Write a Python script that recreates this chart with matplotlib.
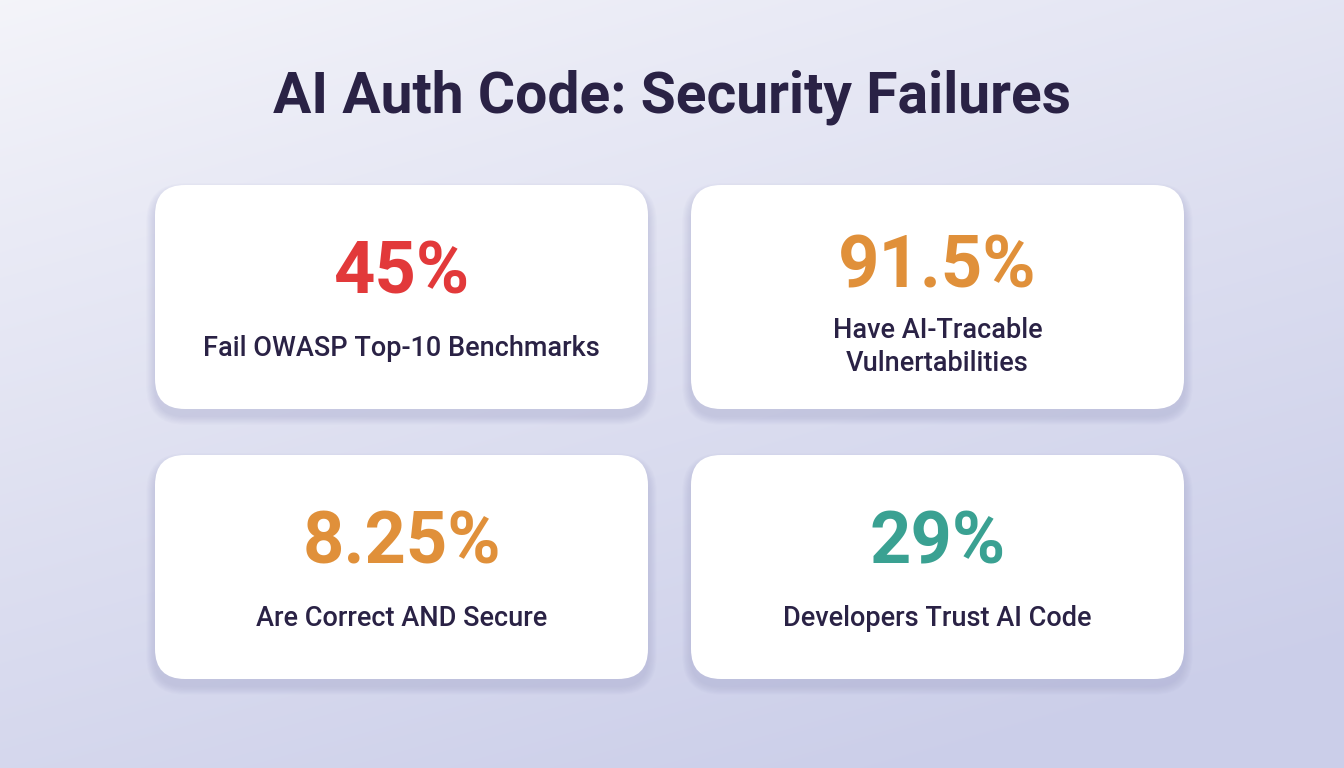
import matplotlib

matplotlib.use("Agg")
import matplotlib.pyplot as plt
import numpy as np
from matplotlib.colors import to_rgb
from matplotlib.patches import FancyBboxPatch

TITLE = "AI Auth Code: Security Failures"
values = ["45%", "91.5%", "8.25%", "29%"]
labels = ["Fail OWASP Top-10 Benchmarks", "Have AI-Tracable\nVulnertabilities",
          "Are Correct AND Secure", "Developers Trust AI Code"]
value_colors = ["#e2393a", "#e0903a", "#e0903a", "#3aa192"]

W, H = 1344, 768
INK = "#2a2245"

fig = plt.figure(figsize=(W / 100, H / 100), dpi=100)
ax = fig.add_axes([0, 0, 1, 1])
ax.set_xlim(0, W)
ax.set_ylim(H, 0)
ax.axis("off")

# background: light top-left fading into lavender towards the bottom
yy, xx = np.mgrid[0:H, 0:W]
t = np.clip(0.75 * yy / H + 0.35 * xx / W + 0.05 * (1 - yy / H), 0, 1) ** 0.9
c0, c1 = np.array(to_rgb("#f7f7fb")), np.array(to_rgb("#cbcee9"))
bg = c0[None, None, :] * (1 - t[..., None]) + c1[None, None, :] * t[..., None]
ax.imshow(bg, extent=(0, W, H, 0), zorder=0)

ax.text(W / 2, 97, TITLE, ha="center", va="center", fontsize=41,
        fontfamily="Roboto", fontweight="bold", color=INK, zorder=5)

card_w, card_h, r = 493, 224, 30
lefts = [155, 691]
tops = [185, 455]

for i, (val, lab, col) in enumerate(zip(values, labels, value_colors)):
    x0 = lefts[i % 2]
    y0 = tops[i // 2]
    # soft shadow
    for k in range(8):
        grow = 2 + k * 2.2
        sh = FancyBboxPatch((x0 - grow / 2, y0 + 7 - grow / 2),
                            card_w + grow, card_h + grow,
                            boxstyle=f"round,pad=0,rounding_size={r + grow / 2}",
                            fc="#9597c6", ec="none", alpha=0.04, zorder=1)
        ax.add_patch(sh)
    card = FancyBboxPatch((x0, y0), card_w, card_h,
                          boxstyle=f"round,pad=0,rounding_size={r}",
                          fc="white", ec="none", zorder=2)
    ax.add_patch(card)
    cx = x0 + card_w / 2
    cy = y0 + card_h / 2
    n = lab.count("\n") + 1
    ax.text(cx, cy - 23 - 6 * (n - 1), val, ha="center", va="center",
            fontsize=52, fontfamily="Roboto", fontweight="bold",
            color=col, zorder=3)
    ax.text(cx, cy + 52 - 2 * (n - 1), lab, ha="center", va="center",
            fontsize=19.5, fontfamily="Roboto", fontweight="medium",
            color=INK, linespacing=1.32, zorder=3)

fig.savefig("out.png", dpi=100)
